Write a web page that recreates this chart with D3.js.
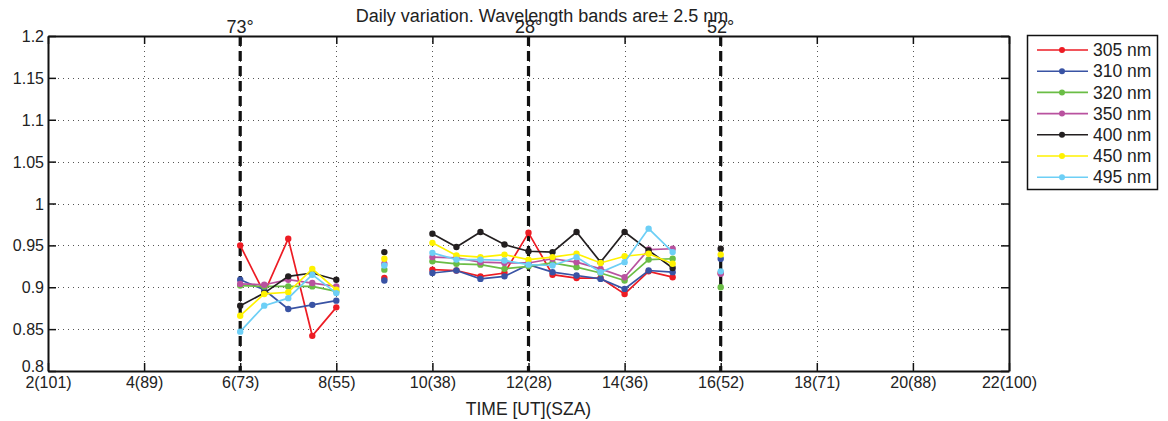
<!DOCTYPE html>
<html>
<head>
<meta charset="utf-8">
<script src="https://cdn.jsdelivr.net/npm/d3@7"></script>
<style>
body{margin:0;background:#fff;}
svg{display:block;font-family:"Liberation Sans",Arial,sans-serif;}
</style>
</head>
<body>
<svg id="chart" width="1168" height="421"></svg>
<script>
// ---- data ----
const seriesNames = ["305 nm","310 nm","320 nm","350 nm","400 nm","450 nm","495 nm"];
const seriesColors = ["#ed1c24","#3953a4","#6abd45","#b9529f","#231f20","#fff200","#6dcff6"];
// time segments (UT hours)
const timesA = [6, 6.5, 7, 7.5, 8];
const timesB = [9];
const timesC = [10, 10.5, 11, 11.5, 12, 12.5, 13, 13.5, 14, 14.5, 15];
const timesD = [16];

const valsA = [
  [0.950, 0.893, 0.958, 0.842, 0.876],
  [0.909, 0.897, 0.874, 0.879, 0.884],
  [0.902, 0.901, 0.901, 0.901, 0.895],
  [0.904, 0.903, 0.909, 0.905, 0.901],
  [0.878, 0.893, 0.913, 0.917, 0.909],
  [0.866, 0.892, 0.894, 0.922, 0.897],
  [0.847, 0.878, 0.887, 0.915, 0.893]
];
const valsB = [[0.911],[0.908],[0.921],[0.928],[0.942],[0.934],[0.926]];
const valsC = [
  [0.921, 0.920, 0.913, 0.917, 0.965, 0.915, 0.911, 0.911, 0.892, 0.919, 0.912],
  [0.917, 0.920, 0.910, 0.913, 0.927, 0.918, 0.914, 0.910, 0.898, 0.920, 0.918],
  [0.931, 0.928, 0.927, 0.922, 0.925, 0.929, 0.924, 0.917, 0.908, 0.933, 0.934],
  [0.936, 0.935, 0.930, 0.929, 0.929, 0.934, 0.930, 0.922, 0.912, 0.945, 0.946],
  [0.964, 0.948, 0.966, 0.951, 0.943, 0.942, 0.966, 0.930, 0.966, 0.944, 0.923],
  [0.953, 0.938, 0.936, 0.939, 0.933, 0.936, 0.940, 0.929, 0.937, 0.940, 0.928],
  [0.941, 0.933, 0.933, 0.932, 0.927, 0.926, 0.936, 0.918, 0.930, 0.970, 0.942]
];
const valsD = [[0.917],[0.934],[0.900],[0.916],[0.946],[0.939],[0.919]];

const xTicks = [2,4,6,8,10,12,14,16,18,20,22];
const xTickLabels = ["2(101)","4(89)","6(73)","8(55)","10(38)","12(28)","14(36)","16(52)","18(71)","20(88)","22(100)"];
const yTicks = [0.8,0.85,0.9,0.95,1,1.05,1.1,1.15,1.2];
const markerTimes = [6, 12, 16];
const markerLabels = ["73°","28°","52°"];
const titleText = "Daily variation. Wavelength bands are\u00b1 2.5 nm";
const xLabel = "TIME [UT](SZA)";

// ---- layout ----
const L = 48, R = 1009, T = 36, B = 371;
const svg = d3.select("#chart");
const x = d3.scaleLinear().domain([2,22]).range([L,R]);
const y = d3.scaleLinear().domain([0.8,1.2]).range([B,T]);

// grid
const grid = svg.append("g").attr("stroke","#555").attr("stroke-width",1).attr("stroke-dasharray","1,4");
grid.selectAll(".gx").data(xTicks.slice(1,-1)).enter().append("line")
  .attr("x1",d=>Math.round(x(d))+0.5).attr("x2",d=>Math.round(x(d))+0.5).attr("y1",T).attr("y2",B);
grid.selectAll(".gy").data(yTicks.slice(1,-1)).enter().append("line")
  .attr("x1",L).attr("x2",R).attr("y1",d=>Math.round(y(d))+0.5).attr("y2",d=>Math.round(y(d))+0.5);

// axes
const fmtY = d => d3.format("~g")(d);
const axB = svg.append("g").attr("transform",`translate(0,${B})`)
  .call(d3.axisBottom(x).tickValues(xTicks).tickSizeInner(-8).tickSizeOuter(0).tickPadding(6).tickFormat((d,i)=>xTickLabels[i]));
const axT = svg.append("g").attr("transform",`translate(0,${T})`)
  .call(d3.axisTop(x).tickValues(xTicks).tickSizeInner(-8).tickSizeOuter(0).tickFormat(""));
const axL = svg.append("g").attr("transform",`translate(${L},0)`)
  .call(d3.axisLeft(y).tickValues(yTicks).tickSizeInner(-8).tickSizeOuter(0).tickPadding(4).tickFormat(fmtY));
const axR = svg.append("g").attr("transform",`translate(${R},0)`)
  .call(d3.axisRight(y).tickValues(yTicks).tickSizeInner(-8).tickSizeOuter(0).tickFormat(""));
[axB,axT,axL,axR].forEach(a=>{
  a.selectAll(".domain").attr("stroke","#111").attr("stroke-width",2);
  a.selectAll(".tick line").attr("stroke","#111").attr("stroke-width",1.5);
  a.selectAll("text").attr("font-size",16).attr("fill","#222").attr("font-family","Liberation Sans, Arial, sans-serif");
});
axB.selectAll("text").attr("dy","0.71em");
axL.selectAll("text").attr("dy","0.35em");
// 0.8 label sits a bit higher like the original
axL.selectAll(".tick").filter(d=>d===0.8).select("text").attr("dy","0.05em");

// vertical dashed markers
svg.append("g").selectAll("line").data(markerTimes).enter().append("line")
  .attr("x1",d=>x(d)).attr("x2",d=>x(d)).attr("y1",T).attr("y2",B)
  .attr("stroke","#111").attr("stroke-width",3.2).attr("stroke-dasharray","10,5");
svg.append("g").selectAll("text").data(markerTimes).enter().append("text")
  .attr("x",d=>x(d)).attr("y",T-3).attr("text-anchor","middle")
  .attr("font-size",18).attr("fill","#222").text((d,i)=>markerLabels[i]);

// series
const segments = [[timesA,valsA],[timesB,valsB],[timesC,valsC],[timesD,valsD]];
const line = d3.line().x(d=>x(d[0])).y(d=>y(d[1]));
seriesNames.forEach((name,si)=>{
  const g = svg.append("g");
  segments.forEach(([ts,vs])=>{
    const pts = ts.map((t,i)=>[t,vs[si][i]]);
    if(pts.length>1){
      g.append("path").datum(pts).attr("d",line).attr("fill","none")
        .attr("stroke",seriesColors[si]).attr("stroke-width",1.7);
    }
    g.selectAll(null).data(pts).enter().append("circle")
      .attr("cx",d=>x(d[0])).attr("cy",d=>y(d[1])).attr("r",3.2)
      .attr("fill",seriesColors[si]);
  });
});

// title
svg.append("text").attr("x",542).attr("y",22).attr("text-anchor","middle")
  .attr("font-size",18).attr("fill","#222").text(titleText);
svg.append("text").attr("x",(L+R)/2).attr("y",415).attr("text-anchor","middle")
  .attr("font-size",17.5).attr("fill","#222").text(xLabel);

// legend
const lg = svg.append("g");
lg.append("rect").attr("x",1027.5).attr("y",35.5).attr("width",130).attr("height",154)
  .attr("fill","#fff").attr("stroke","#111").attr("stroke-width",1.5);
seriesNames.forEach((name,i)=>{
  const yy = 50 + i*21.2;
  lg.append("line").attr("x1",1037).attr("x2",1088).attr("y1",yy).attr("y2",yy)
    .attr("stroke",seriesColors[i]).attr("stroke-width",1.6);
  lg.append("circle").attr("cx",1062).attr("cy",yy).attr("r",3).attr("fill",seriesColors[i]);
  lg.append("text").attr("x",1093).attr("y",yy).attr("dy","0.35em")
    .attr("font-size",17.5).attr("fill","#222").text(name);
});
</script>
</body>
</html>
